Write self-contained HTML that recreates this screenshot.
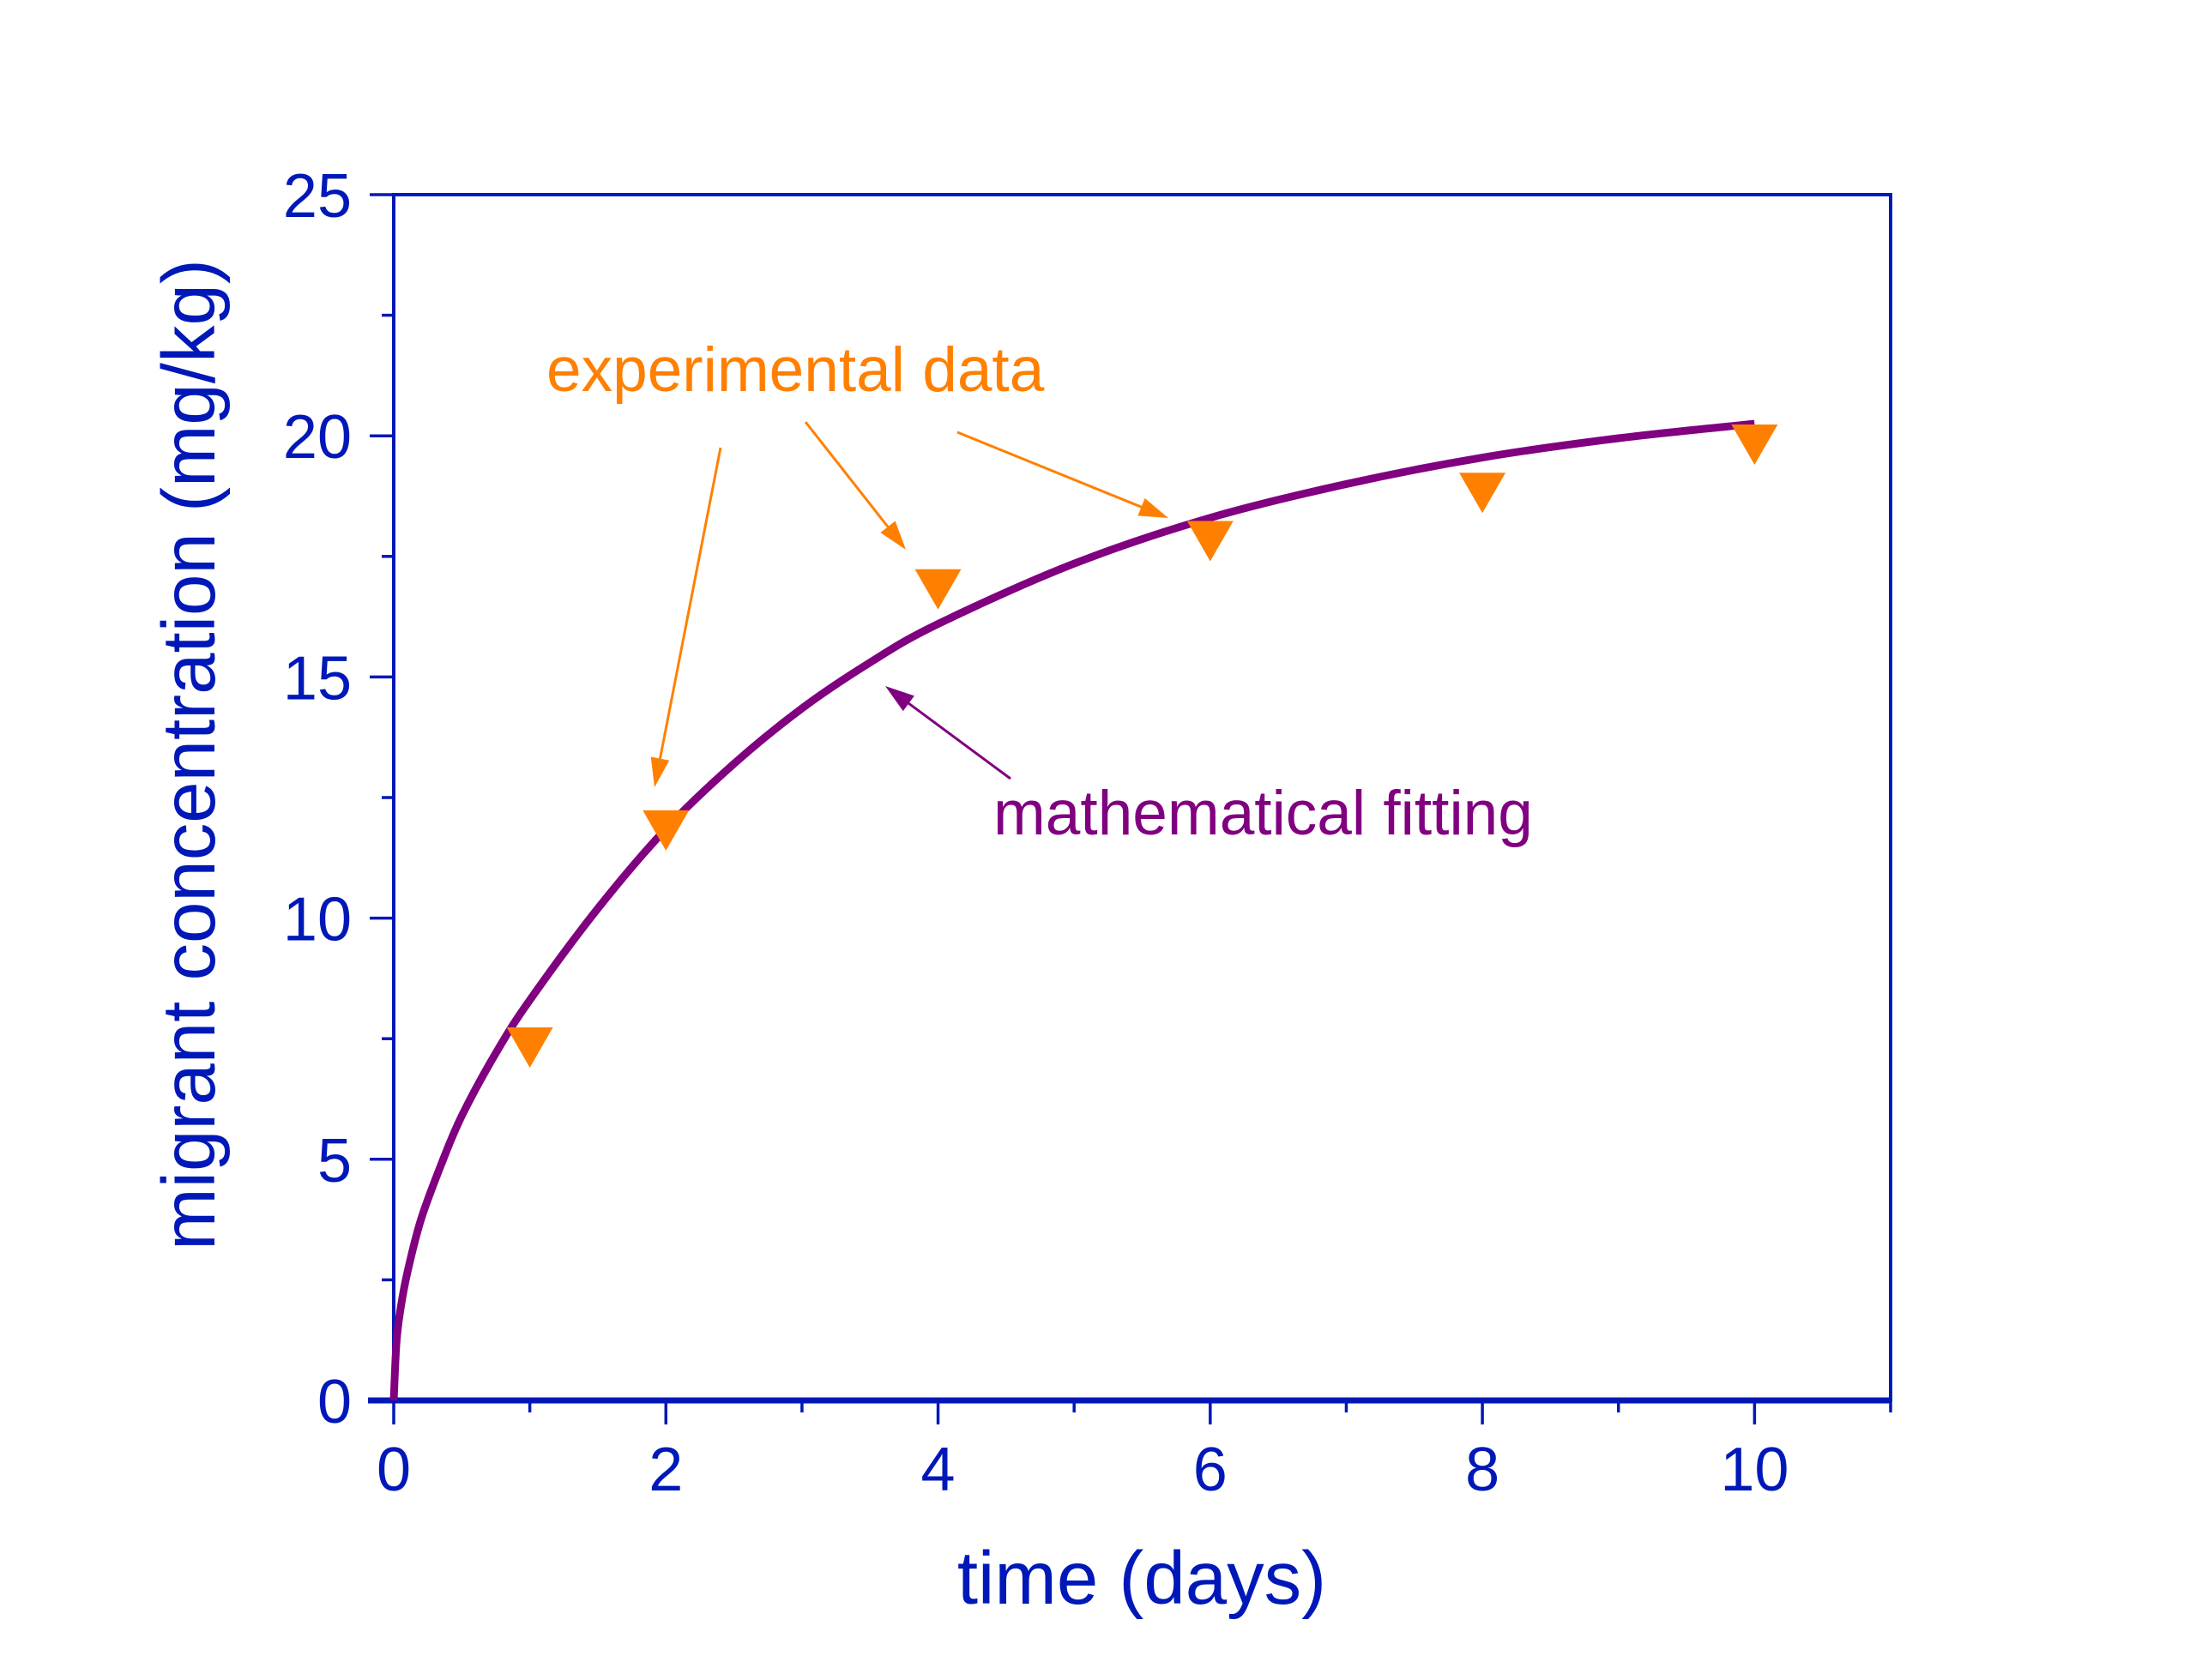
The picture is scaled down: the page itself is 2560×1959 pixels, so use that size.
<!DOCTYPE html>
<html><head><meta charset="utf-8">
<style>
html,body{margin:0;padding:0;background:#fff;}
svg{display:block;}
text{font-family:"Liberation Sans",Arial,sans-serif;}
</style></head>
<body>
<svg id="chart" width="2560" height="1959" viewBox="0 0 2560 1959" xmlns="http://www.w3.org/2000/svg">
<g id="axes"></g>
<g id="series"></g>
<g id="annot"></g>
<text x="1331" y="1870" font-size="87" fill="#0018B8" text-anchor="middle">time (days)</text>
<text transform="translate(250,880) rotate(-90)" font-size="87" fill="#0018B8" text-anchor="middle">migrant concentration (mg/kg)</text>
<text x="637" y="456" font-size="73" fill="#FF8000">experimental data</text>
<text x="1158" y="973" font-size="73" fill="#800080">mathematical fitting</text>
</svg>
<script>
const xTicks = [0, 2, 4, 6, 8, 10];
const yTicks = [0, 5, 10, 15, 20, 25];
const expTimes = [1, 2, 4, 6, 8, 10];
const expValues = [7.45, 11.95, 16.95, 17.95, 18.95, 19.95];
const fitTimes = [0, 0.02, 0.05, 0.1, 0.2, 0.35, 0.5, 0.75, 1, 1.5, 2, 2.5, 3, 3.5, 4, 5, 6, 7, 8, 9, 10];
const fitValues = [0, 1.2, 1.9, 2.65, 3.75, 4.9, 5.9, 7.2, 8.3, 10.2, 11.85, 13.2, 14.35, 15.3, 16.1, 17.35, 18.3, 19.0, 19.55, 19.95, 20.25];

const NS = "http://www.w3.org/2000/svg";
const X0 = 459, X1 = 2204, Y0 = 1633, Y1 = 227;
const xMax = 11, yMax = 25;
function sx(v){ return X0 + (X1 - X0) * v / xMax; }
function sy(v){ return Y0 - (Y0 - Y1) * v / yMax; }
function mk(tag, attrs, parent){ const e = document.createElementNS(NS, tag); for (const k in attrs) e.setAttribute(k, attrs[k]); parent.appendChild(e); return e; }
const blue = "#0018B8";
const axes = document.getElementById('axes');
const frame = mk('rect', {x: X0, y: Y1, width: X1 - X0, height: Y0 - Y1, fill: 'none', stroke: blue, 'stroke-width': 4}, axes);


const xb = mk('line', {x1: X0 - 30, x2: X1, y1: Y0, y2: Y0, stroke: blue, 'stroke-width': 7}, axes);


for (let v = 0; v <= 11; v++) {
  const major = v % 2 === 0;
  const t = mk('line', {x1: sx(v), x2: sx(v), y1: Y0, y2: Y0 + (major ? 28 : 14), stroke: blue, 'stroke-width': 3.5}, axes);
  
  
}
xTicks.forEach(v => {
  const t = mk('text', {x: sx(v), y: 1738, 'font-size': 72, fill: blue, 'text-anchor': 'middle'}, axes);
  t.textContent = v;
  
  
});
for (let v = 0; v <= 25; v += 2.5) {
  const major = v % 5 === 0;
  const t = mk('line', {x1: X0 - (major ? 28 : 14), x2: X0, y1: sy(v), y2: sy(v), stroke: blue, 'stroke-width': 3.5}, axes);
  
  
}
yTicks.forEach(v => {
  const t = mk('text', {x: 410, y: sy(v) + 26, 'font-size': 72, fill: blue, 'text-anchor': 'end'}, axes);
  t.textContent = v;
  
  
});
const series = document.getElementById('series');
const pts = fitTimes.map((t, i) => [sx(t), sy(fitValues[i])]);
let d = 'M' + pts[0][0] + ',' + pts[0][1];
for (let i = 0; i < pts.length - 1; i++) {
  const p0 = pts[Math.max(0, i - 1)], p1 = pts[i], p2 = pts[i + 1], p3 = pts[Math.min(pts.length - 1, i + 2)];
  const c1 = [p1[0] + (p2[0] - p0[0]) / 6, p1[1] + (p2[1] - p0[1]) / 6];
  const c2 = [p2[0] - (p3[0] - p1[0]) / 6, p2[1] - (p3[1] - p1[1]) / 6];
  d += ' C' + c1[0] + ',' + c1[1] + ' ' + c2[0] + ',' + c2[1] + ' ' + p2[0] + ',' + p2[1];
}
const curve = mk('path', {d: d, fill: 'none', stroke: '#800080', 'stroke-width': 9, 'stroke-linejoin': 'round'}, series);


expTimes.forEach((t, i) => {
  const cx = sx(t), cy = sy(expValues[i]);
  const m = mk('polygon', {points: (cx - 27) + ',' + (cy - 16) + ' ' + (cx + 27) + ',' + (cy - 16) + ' ' + cx + ',' + (cy + 31), fill: '#FF8000'}, series);
  
  
});
const annot = document.getElementById('annot');
function arrow(x1, y1, x2, y2, col, name) {
  const g = mk('g', {}, annot);
  
  
  const ang = Math.atan2(y2 - y1, x2 - x1), L = 34, W = 11;
  const bx = x2 - L * Math.cos(ang), by = y2 - L * Math.sin(ang);
  mk('line', {x1: x1, y1: y1, x2: bx, y2: by, stroke: col, 'stroke-width': 3}, g);
  const px = -Math.sin(ang) * W, py = Math.cos(ang) * W;
  mk('polygon', {points: x2 + ',' + y2 + ' ' + (bx + px) + ',' + (by + py) + ' ' + (bx - px) + ',' + (by - py), fill: col}, g);
}
arrow(840, 522, 763, 918, '#FF8000', 'arrow-to-day2');
arrow(939, 492, 1056, 641, '#FF8000', 'arrow-to-day4');
arrow(1116, 504, 1362, 604, '#FF8000', 'arrow-to-day6');
arrow(1178, 908, 1032, 800, '#800080', 'arrow-to-curve');
</script>
</body></html>
